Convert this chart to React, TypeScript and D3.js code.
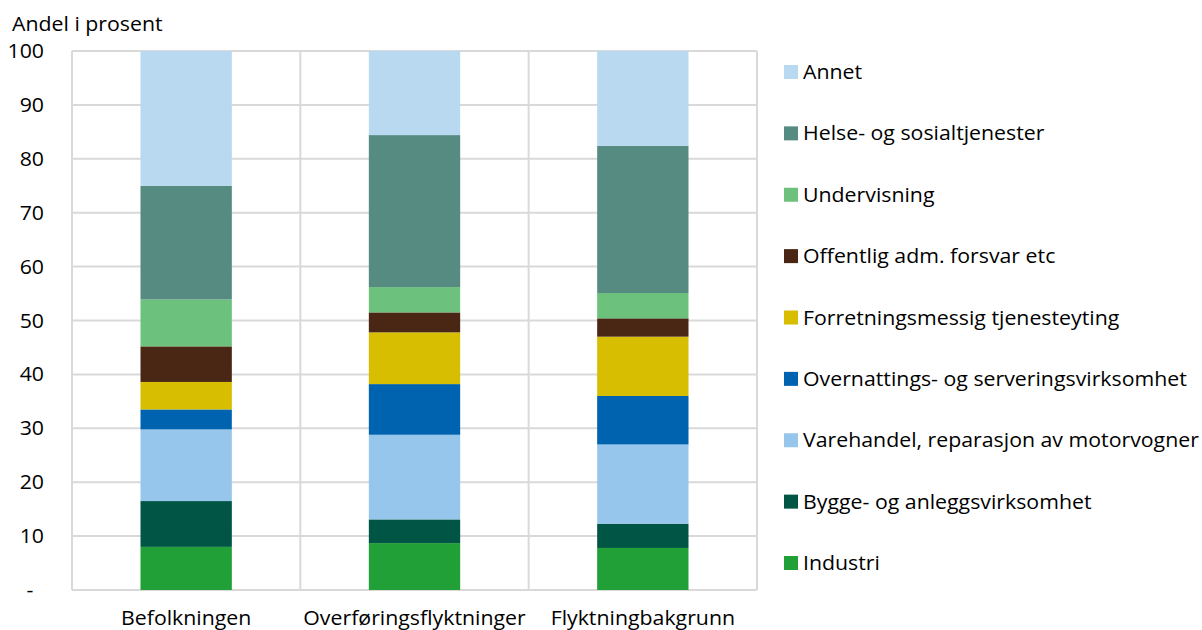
import React from 'react';
import * as d3 from 'd3';

const categories = ['Befolkningen', 'Overføringsflyktninger', 'Flyktningbakgrunn'];

// stacked from bottom to top
const sectors = [
  'Industri',
  'Bygge- og anleggsvirksomhet',
  'Varehandel, reparasjon av motorvogner',
  'Overnattings- og serveringsvirksomhet',
  'Forretningsmessig tjenesteyting',
  'Offentlig adm. forsvar etc',
  'Undervisning',
  'Helse- og sosialtjenester',
  'Annet',
];

const befolkningen = [8.0, 8.5, 13.3, 3.7, 5.1, 6.6, 8.7, 21.1, 25.0];
const overforing = [8.7, 4.4, 15.7, 9.4, 9.6, 3.7, 4.7, 28.2, 15.6];
const bakgrunn = [7.8, 4.5, 14.7, 9.0, 11.0, 3.4, 4.7, 27.3, 17.6];

const yTicks = [0, 10, 20, 30, 40, 50, 60, 70, 80, 90, 100];

const colors = [
  '#21a038',
  '#005545',
  '#96c6eb',
  '#0063af',
  '#d7be00',
  '#4a2714',
  '#6cc17c',
  '#558b80',
  '#b9d9f0',
];

const W = 1202;
const H = 630;
const left = 72;
const right = 757;
const top = 51;
const bottom = 590;
const font = '"Open Sans", "Noto Sans", sans-serif';
const fs = 20;
const sx = 1.065; // the source text is a little wider than Open Sans

// text helper, stretched horizontally around its anchor
const T = ({ x, y, anchor = 'start', children }: any) => (
  <text
    transform={`translate(${x},${y}) scale(${sx},1)`}
    fontSize={fs}
    textAnchor={anchor}
    fill="#000"
  >
    {children}
  </text>
);

export default function App() {
  const seriesByCat = [befolkningen, overforing, bakgrunn];
  const rows = categories.map((c, i) => {
    const row: Record<string, any> = { cat: c };
    sectors.forEach((s, j) => (row[s] = seriesByCat[i][j]));
    return row;
  });

  const stacked = d3.stack<any>().keys(sectors)(rows);

  const x = d3.scaleBand().domain(categories).range([left, right]).padding(0);
  const barW = x.bandwidth() * 0.4;
  const y = d3.scaleLinear().domain([0, 100]).range([bottom, top]);

  const legendY = d3
    .scalePoint()
    .domain([...sectors].reverse())
    .range([72, 563]);

  return (
    <svg
      width={W}
      height={H}
      style={{ position: 'absolute', left: 0, top: 0, background: '#fff' }}
      fontFamily={font}
    >
      {/* grid */}
      {yTicks.map((t) => (
        <line key={'h' + t} x1={left} x2={right} y1={y(t)} y2={y(t)} stroke="#d9d9d9" strokeWidth={2} />
      ))}
      {[...categories.map((c) => x(c)!), right].map((v, i) => (
        <line key={'v' + i} x1={v} x2={v} y1={top} y2={bottom} stroke="#d9d9d9" strokeWidth={2} />
      ))}

      {/* bars */}
      {stacked.map((layer, i) => (
        <g key={layer.key} fill={colors[i]}>
          {layer.map((d, j) => (
            <rect
              key={j}
              x={x(categories[j])! + (x.bandwidth() - barW) / 2}
              y={y(d[1])}
              width={barW}
              height={y(d[0]) - y(d[1])}
            />
          ))}
        </g>
      ))}

      {/* y axis labels */}
      {yTicks.map((t) =>
        t === 0 ? (
          <T key={'yl' + t} x={30} y={y(t) + 7} anchor="middle">
            -
          </T>
        ) : (
          <T key={'yl' + t} x={44} y={y(t) + 7} anchor="end">
            {t}
          </T>
        )
      )}
      <T x={12} y={31}>
        Andel i prosent
      </T>

      {/* x labels */}
      {categories.map((c) => (
        <T key={c} x={x(c)! + x.bandwidth() / 2} y={625} anchor="middle">
          {c}
        </T>
      ))}

      {/* legend */}
      {[...sectors].reverse().map((s) => {
        const i = sectors.indexOf(s);
        const cy = legendY(s)!;
        return (
          <g key={s}>
            <rect x={784} y={cy - 7} width={14} height={14} fill={colors[i]} />
            <T x={803} y={cy + 7}>
              {s}
            </T>
          </g>
        );
      })}
    </svg>
  );
}
